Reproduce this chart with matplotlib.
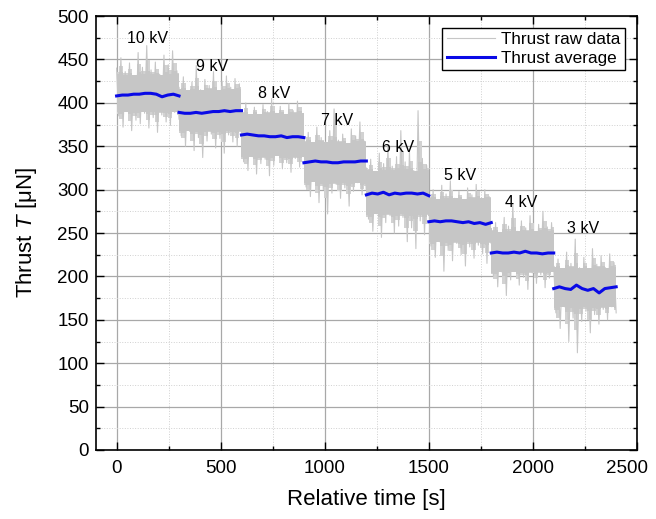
import numpy as np
import matplotlib.pyplot as plt
import matplotlib.transforms as mtransforms
from matplotlib.ticker import MultipleLocator

plt.rcParams['font.family'] = ['Liberation Sans', 'DejaVu Sans']
plt.rcParams['mathtext.fontset'] = 'custom'
plt.rcParams['mathtext.it'] = 'Liberation Sans:italic'
plt.rcParams['mathtext.rm'] = 'Liberation Sans'

# voltage steps, each held for 300 s
voltages = ['10 kV', '9 kV', '8 kV', '7 kV', '6 kV', '5 kV', '4 kV', '3 kV']
step_len = 300

# dense part of the raw band (per step)
core_top = [432, 415, 388, 355, 322, 290, 252, 210]
core_bottom = [390, 368, 338, 308, 272, 240, 205, 165]

# raw data peaks / dips (per step)
raw_high = [
    [440, 452, 436, 446, 430, 458, 441, 466, 438, 447, 433, 455, 444, 460, 437],
    [418, 430, 412, 424, 443, 415, 427, 420, 436, 413, 425, 431, 418, 428, 422],
    [392, 400, 386, 395, 383, 398, 390, 405, 388, 396, 385, 399, 391, 402, 387],
    [358, 366, 352, 372, 360, 355, 368, 393, 357, 364, 350, 370, 362, 378, 356],
    [325, 335, 320, 342, 330, 350, 327, 338, 368, 332, 345, 322, 391, 336, 328],
    [292, 300, 288, 305, 295, 310, 290, 298, 285, 302, 294, 306, 289, 300, 292],
    [255, 262, 250, 268, 258, 283, 252, 264, 256, 270, 251, 260, 275, 257, 262],
    [212, 220, 206, 228, 215, 243, 210, 222, 208, 232, 214, 224, 210, 226, 216],
]
raw_low = [
    [385, 372, 390, 368, 380, 376, 388, 371, 383, 366, 386, 378, 374, 389, 381],
    [362, 350, 367, 345, 360, 337, 356, 364, 348, 359, 342, 363, 355, 350, 366],
    [332, 322, 338, 318, 330, 335, 316, 328, 340, 324, 331, 320, 336, 326, 338],
    [303, 292, 310, 285, 300, 272, 296, 306, 290, 302, 281, 298, 308, 294, 300],
    [266, 252, 272, 245, 262, 270, 250, 258, 268, 240, 256, 232, 264, 248, 270],
    [235, 222, 240, 206, 230, 218, 238, 225, 212, 234, 221, 236, 226, 215, 238],
    [200, 188, 205, 178, 196, 208, 190, 199, 185, 204, 192, 202, 187, 198, 206],
    [158, 140, 165, 125, 152, 112, 148, 160, 135, 156, 145, 162, 150, 165, 158],
]

# running average (per step)
avg_vals = [
    [408, 409, 409, 410, 410, 411, 411, 410, 407, 409, 410, 408],
    [389, 388, 388, 389, 388, 389, 390, 390, 391, 390, 391, 391],
    [363, 364, 363, 362, 362, 361, 361, 362, 360, 361, 361, 360],
    [331, 332, 333, 332, 332, 331, 331, 332, 332, 332, 333, 333],
    [294, 296, 295, 297, 294, 296, 295, 296, 296, 295, 296, 293],
    [263, 264, 263, 264, 264, 263, 262, 263, 261, 262, 260, 262],
    [227, 228, 227, 227, 228, 227, 229, 227, 227, 226, 227, 227],
    [186, 188, 186, 185, 190, 186, 184, 186, 181, 186, 187, 188],
]

# label positions (time, thrust)
label_x = [147, 461, 759, 1057, 1351, 1649, 1943, 2241]
label_y = [474, 442, 411, 380, 348, 316, 285, 255]

raw_color = '#c6c6c6'
raw_light = '#d2d2d2'
avg_color = '#0a0ae6'

fig = plt.figure(figsize=(6.56, 5.19), dpi=100)
ax = fig.add_axes([0.146, 0.133, 0.825, 0.836])

raw_t, raw_y = [], []
for k in range(len(voltages)):
    t0 = k * step_len
    hi, lo = np.array(raw_high[k]), np.array(raw_low[k])
    zig = [v for pair in zip(hi, lo) for v in pair]
    raw_t.extend(np.linspace(t0, t0 + step_len, len(zig)))
    raw_y.extend(zig)
    # ragged band: edges pulled part way from the core towards the peaks
    tb = np.linspace(t0, t0 + step_len, len(hi))
    up_soft = core_top[k] + 0.5 * (hi - core_top[k])
    lo_soft = core_bottom[k] + 0.5 * (lo - core_bottom[k])
    ax.fill_between(tb, lo_soft, up_soft, step='mid', color=raw_light, lw=0, zorder=2)
    up_core = core_top[k] + 0.15 * (hi - core_top[k])
    lo_core = core_bottom[k] + 0.15 * (lo - core_bottom[k])
    ax.fill_between(tb, lo_core, up_core, step='mid', color=raw_color, lw=0, zorder=2)

ax.plot(raw_t, raw_y, color=raw_color, lw=0.8, zorder=2, label='Thrust raw data')

# average drawn per step so the steps are not joined
for k in range(len(voltages)):
    t0 = k * step_len
    ax.plot(np.linspace(t0, t0 + step_len, len(avg_vals[k])), avg_vals[k],
            color=avg_color, lw=2.2, zorder=3,
            label='Thrust average' if k == 0 else None)

for txt, x, y in zip(voltages, label_x, label_y):
    ax.text(x, y, txt, ha='center', va='center', fontsize=11.5, zorder=4)

ax.set_xlim(-100, 2500)
ax.set_ylim(0, 500)
ax.xaxis.set_major_locator(MultipleLocator(500))
ax.xaxis.set_minor_locator(MultipleLocator(250))
ax.yaxis.set_major_locator(MultipleLocator(50))
ax.yaxis.set_minor_locator(MultipleLocator(25))

ax.grid(which='major', color='#a8a8a8', lw=0.9, zorder=0)
ax.grid(which='minor', color='#d0d0d0', lw=0.7, ls=':', zorder=0)
ax.set_axisbelow(True)

ax.tick_params(which='both', direction='in', top=True, right=True, labelsize=13.5)
ax.tick_params(axis='x', which='major', pad=7)
ax.tick_params(axis='y', which='major', pad=5)
ax.tick_params(which='major', length=6, width=1)
ax.tick_params(which='minor', length=3, width=1)
for s in ax.spines.values():
    s.set_linewidth(1.2)

ax.set_xlabel('Relative time [s]', fontsize=16, labelpad=9)
ax.set_ylabel('Thrust $T$ [μN]', fontsize=16, labelpad=13)

# keep the last x tick label inside the figure
fig.canvas.draw()
last = [t for t in ax.get_xticklabels() if t.get_text() == '2500']
for t in last:
    t.set_transform(t.get_transform() + mtransforms.ScaledTranslation(-10 / 100, 0, fig.dpi_scale_trans))

leg = ax.legend(loc='upper right', fontsize=12.3, fancybox=False, framealpha=1,
                edgecolor='black', handlelength=2.8, borderpad=0.25,
                labelspacing=0.2, handletextpad=0.4, borderaxespad=0.7)
leg.get_frame().set_linewidth(1.0)

fig.savefig('out.png', dpi=100)
